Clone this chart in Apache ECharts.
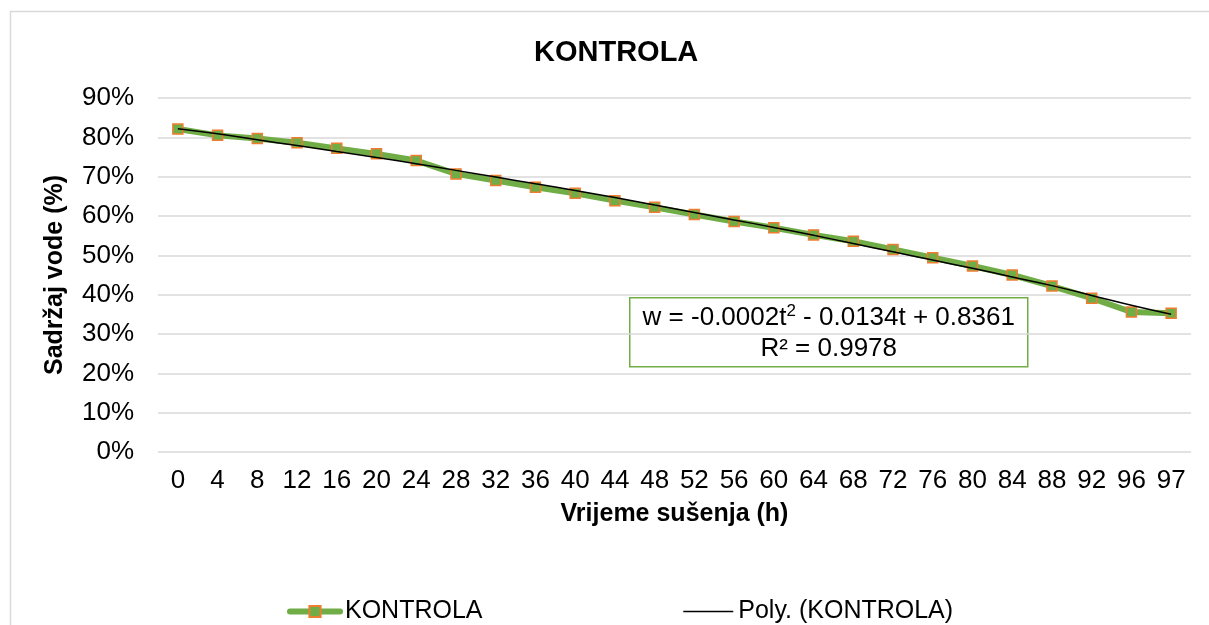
<!DOCTYPE html>
<html>
<head>
<meta charset="utf-8">
<script src="https://cdn.jsdelivr.net/npm/echarts@6/dist/echarts.min.js"></script>
<style>
  html, body { margin: 0; padding: 0; background: #fff; }
  #chart { width: 1209px; height: 625px; }
</style>
</head>
<body>
<div id="chart"></div>
<script>
// vrijeme sušenja (h)
const hours = ['0', '4', '8', '12', '16', '20', '24', '28', '32', '36', '40', '44', '48',
  '52', '56', '60', '64', '68', '72', '76', '80', '84', '88', '92', '96', '97'];
// sadržaj vode (%) - KONTROLA
const kontrola = [82.1, 80.5, 79.7, 78.6, 77.2, 75.8, 74.1, 70.7, 69.0, 67.3, 65.8, 63.9, 62.2,
  60.4, 58.6, 57.0, 55.2, 53.6, 51.5, 49.4, 47.3, 45.0, 42.2, 39.1, 35.6, 35.3];
// polinomni trend, očitano sa slike
const polyTrend = [82.2, 80.9, 79.4, 77.9, 76.4, 74.9, 73.3, 71.6, 69.9, 68.2, 66.5, 64.7, 62.8,
  60.9, 59.0, 57.1, 55.1, 53.0, 50.9, 48.8, 46.7, 44.5, 42.3, 39.8, 37.3, 35.0];
const yTicks = [0, 10, 20, 30, 40, 50, 60, 70, 80, 90];

const FONT = 'Liberation Sans';
const chart = echarts.init(document.getElementById('chart'));

const option = {
  backgroundColor: '#fff',
  animation: false,
  textStyle: { fontFamily: FONT, color: '#000' },
  title: {
    text: 'KONTROLA',
    left: 529,
    top: 33,
    textStyle: { fontFamily: FONT, fontSize: 29, fontWeight: 'bold', color: '#000' }
  },
  grid: { left: 158, right: 18, top: 98, bottom: 173 },
  legend: {
    left: 282,
    top: 594,
    itemGap: 200,
    itemWidth: 50,
    itemHeight: 14,
    textStyle: { fontFamily: FONT, fontSize: 25, color: '#000' },
    data: [
      { name: 'KONTROLA', lineStyle: { width: 6, cap: 'round' } },
      { name: 'Poly. (KONTROLA)', lineStyle: { width: 1.5 }, itemStyle: { opacity: 0 } }
    ]
  },
  xAxis: {
    type: 'category',
    data: hours,
    boundaryGap: true,
    name: 'Vrijeme sušenja (h)',
    nameLocation: 'middle',
    nameGap: 50,
    nameTextStyle: { fontFamily: FONT, fontSize: 25, fontWeight: 'bold', color: '#000' },
    axisLine: { show: false },
    axisTick: { show: false },
    axisLabel: { interval: 0, margin: 16, fontFamily: FONT, fontSize: 26, color: '#000' }
  },
  yAxis: {
    type: 'value',
    min: yTicks[0],
    max: yTicks[yTicks.length - 1],
    interval: 10,
    name: 'Sadržaj vode (%)',
    nameLocation: 'middle',
    nameRotate: 90,
    nameGap: 90,
    nameTextStyle: { fontFamily: FONT, fontSize: 25, fontWeight: 'bold', color: '#000' },
    axisLine: { show: false },
    axisTick: { show: false },
    axisLabel: { margin: 24, fontFamily: FONT, fontSize: 26, color: '#000', formatter: '{value}%' },
    splitLine: { lineStyle: { color: '#d9d9d9', width: 1.5 } }
  },
  series: [
    {
      name: 'KONTROLA',
      type: 'line',
      data: kontrola,
      symbol: 'rect',
      symbolSize: 10,
      lineStyle: { color: '#70ad47', width: 6 },
      itemStyle: { color: '#70ad47', borderColor: '#ed7d31', borderWidth: 1.5 },
      z: 2
    },
    {
      name: 'Poly. (KONTROLA)',
      type: 'line',
      data: polyTrend,
      symbol: 'none',
      smooth: true,
      lineStyle: { color: '#000', width: 1.5 },
      itemStyle: { color: '#000' },
      z: 3
    }
  ],
  graphic: [
    {
      type: 'rect',
      silent: true,
      shape: { x: 10.5, y: 11.5, width: 1300, height: 700 },
      style: { fill: null, stroke: '#d9d9d9', lineWidth: 1.5 },
      z: -10
    },
    {
      type: 'group',
      left: 629,
      top: 297,
      z: 100,
      children: [
        {
          type: 'rect',
          shape: { x: 0, y: 0, width: 398, height: 69 },
          style: { fill: '#fff', stroke: '#70ad47', lineWidth: 1.5 }
        },
        {
          type: 'text',
          x: 199,
          y: 20,
          style: {
            text: 'w = -0.0002t{sup|2} - 0.0134t + 0.8361',
            align: 'center',
            verticalAlign: 'middle',
            fontFamily: FONT,
            fontSize: 26,
            fill: '#000',
            rich: {
              sup: { fontFamily: FONT, fontSize: 17, fill: '#000', padding: [0, 0, 12, 0] }
            }
          }
        },
        {
          type: 'text',
          x: 199,
          y: 51,
          style: {
            text: 'R² = 0.9978',
            align: 'center',
            verticalAlign: 'middle',
            fontFamily: FONT,
            fontSize: 26,
            fill: '#000'
          }
        }
      ]
    }
  ]
};

chart.setOption(option);
</script>
</body>
</html>
